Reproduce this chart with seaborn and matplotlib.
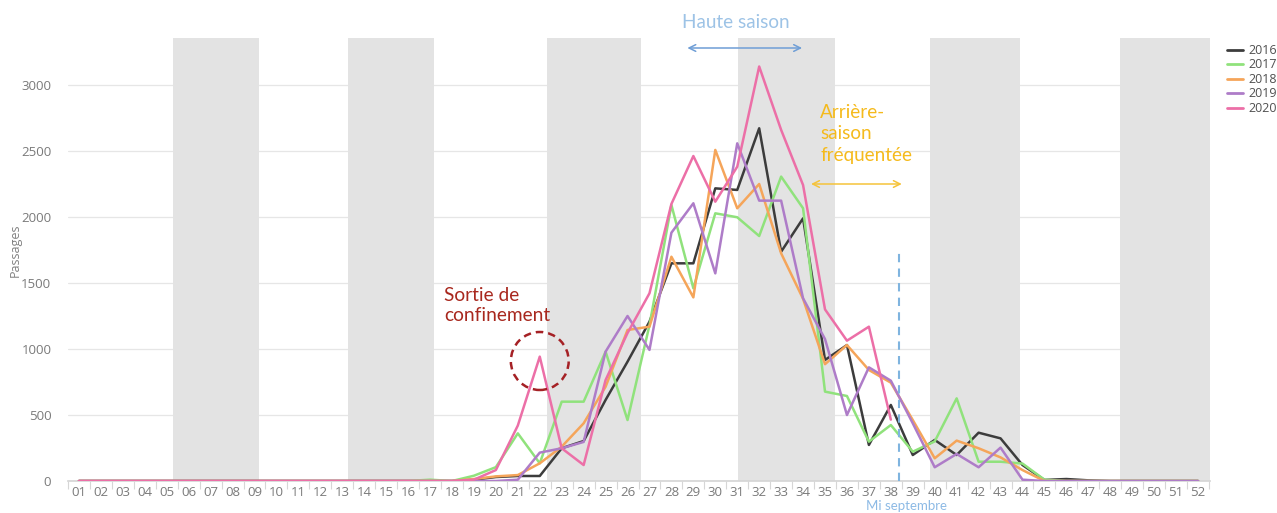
import numpy as np
import pandas as pd
import matplotlib
matplotlib.use("Agg")
import matplotlib.pyplot as plt
import seaborn as sns
from matplotlib.patches import Ellipse
from matplotlib.lines import Line2D

nan = np.nan
weeks = list(range(1, 53))
week_labels = [f"{w:02d}" for w in weeks]
years = ["2016", "2017", "2018", "2019", "2020"]

v2016 = [0]*18 + [10, 30, 38, 38, 248, 303, 614, 904, 1207, 1649, 1649, 2217, 2205, 2672,
                  1737, 1990, 917, 1030, 273, 576, 197, 311, 197, 366, 323, 121, 8, 15, 5,
                  0, 0, 0, 0, 0]
v2017 = [0]*16 + [10, 0, 40, 105, 361, 134, 601, 601, 980, 462, 1180, 2091, 1460, 2028, 1998,
                  1856, 2306, 2066, 677, 644, 298, 424, 222, 300, 626, 146, 146, 132, 10,
                  0, 0, 0, 0, 0, 0, 0]
v2018 = [0]*18 + [15, 35, 45, 134, 260, 437, 714, 1144, 1169, 1699, 1391, 2508, 2066, 2250,
                  1725, 1380, 885, 1030, 841, 745, 462, 172, 306, 248, 179, 83, 0,
                  0, 0, 0, 0, 0, 0, 0]
v2019 = [0]*20 + [10, 215, 248, 296, 980, 1250, 993, 1881, 2104, 1573, 2558, 2124, 2124,
                  1384, 1075, 500, 861, 760, 437, 104, 205, 104, 253, 10, 0,
                  0, 0, 0, 0, 0, 0, 0]
v2020 = [0]*18 + [10, 83, 420, 942, 248, 121, 765, 1121, 1422, 2099, 2462, 2116, 2381, 3140,
                  2660, 2242, 1300, 1063, 1169, 465] + [nan]*14

series = {"2016": v2016, "2017": v2017, "2018": v2018, "2019": v2019, "2020": v2020}
palette = {"2016": "#3C3C3C", "2017": "#90E27C", "2018": "#F5A55A",
           "2019": "#AE7CC8", "2020": "#EC6FA7"}

rows = []
for y in years:
    for w, v in zip(weeks, series[y]):
        rows.append({"week": w, "passages": v, "year": y})
df = pd.DataFrame(rows)

sns.set_theme(style="white")
plt.rcParams["font.family"] = ["Open Sans", "DejaVu Sans"]

W, H = 1277, 513
fig = plt.figure(figsize=(W/100, H/100), dpi=100)
ax = fig.add_axes([68/W, 1-481/H, (1210-68)/W, (481-38)/H])

def wk(px):
    return (px - 76)/22 + 1

def val(py):
    return (481 - py)*500/66

def fx(px):
    return px/W

def fy(py):
    return 1 - py/H

# alternate month bands
bands = [(170, 257), (346, 432), (545, 640), (737, 834), (929, 1019), (1120, 1212)]
for a, b in bands:
    ax.axvspan(wk(a), wk(b), color="#E3E3E3", lw=0, zorder=0.6)

sns.lineplot(data=df, x="week", y="passages", hue="year", hue_order=years,
             palette=palette, linewidth=1.8, ax=ax, legend=False, zorder=3)

ax.set_xlim(wk(68), wk(1210))
ax.set_ylim(0, val(38))
ax.set_yticks([0, 500, 1000, 1500, 2000, 2500, 3000])
ax.set_xticks(weeks)
ax.set_xticklabels(week_labels)
ax.set_xticks([w + 0.5 for w in range(0, 53)], minor=True)
ax.tick_params(axis="x", which="major", length=0, pad=3.5, labelsize=9.5, labelcolor="#7A7A7A")
ax.tick_params(axis="x", which="minor", length=6, width=0.8, color="#D6D6D6", bottom=True)
ax.tick_params(axis="y", length=0, pad=12, labelsize=9.5, labelcolor="#7A7A7A")
ax.yaxis.grid(True, color="#E6E6E6", lw=0.9, zorder=0.5)
ax.set_axisbelow(True)
for s in ["top", "left", "right"]:
    ax.spines[s].set_visible(False)
ax.spines["bottom"].set_color("#D6D6D6")
ax.set_xlabel("")
ax.set_ylabel("")
fig.text(fx(15), fy(250), "Passages", rotation=90, ha="center", va="center",
         fontsize=9, color="#808080")

# Legend
handles = [Line2D([0], [0], color=palette[y], lw=2) for y in years]
fig.legend(handles, years, loc="upper left", bbox_to_anchor=(fx(1222), fy(39)),
           frameon=False, fontsize=9, handlelength=1.3, handletextpad=0.4,
           labelspacing=0.12, labelcolor="#505050", borderaxespad=0)

# Haute saison
fig.text(fx(736), fy(22), "Haute saison", ha="center", va="center", fontsize=13.6,
         color="#9DC3E6", family=["Lato", "DejaVu Sans"])
ax.annotate("", xy=(wk(801), val(48)), xytext=(wk(686), val(48)),
            arrowprops=dict(arrowstyle="<->", color="#6F9ED6", lw=1.1,
                            shrinkA=0, shrinkB=0, mutation_scale=12),
            annotation_clip=False)

# Arrière-saison
ax.text(wk(819), val(104), "Arrière-\nsaison\nfréquentée", ha="left", va="top",
        fontsize=13.6, color="#F5BA1C", linespacing=1.32, family=["Lato", "DejaVu Sans"])
ax.annotate("", xy=(wk(901), val(184)), xytext=(wk(810), val(184)),
            arrowprops=dict(arrowstyle="<->", color="#F5C33B", lw=1.1,
                            shrinkA=0, shrinkB=0, mutation_scale=12))

# Sortie de confinement
ax.text(wk(442), val(287), "Sortie de\nconfinement", ha="left", va="top",
        fontsize=13.8, color="#A8281E", linespacing=1.2, family=["Lato", "DejaVu Sans"])
ax.add_patch(Ellipse((wk(538), val(361)), width=58/22, height=58*500/66, fill=False,
                     edgecolor="#A52125", lw=1.8, ls=(0, (3, 2)), zorder=4))

# Mi septembre
ax.plot([wk(898), wk(898)], [0, val(250)], color="#7FB4DF", lw=1.5,
        ls=(0, (4, 3)), zorder=4)
fig.text(fx(906), fy(512), "Mi septembre", ha="center", va="bottom", fontsize=9.5,
         color="#8DBAE5", family=["Lato", "DejaVu Sans"])

fig.savefig("out.png", dpi=100)
